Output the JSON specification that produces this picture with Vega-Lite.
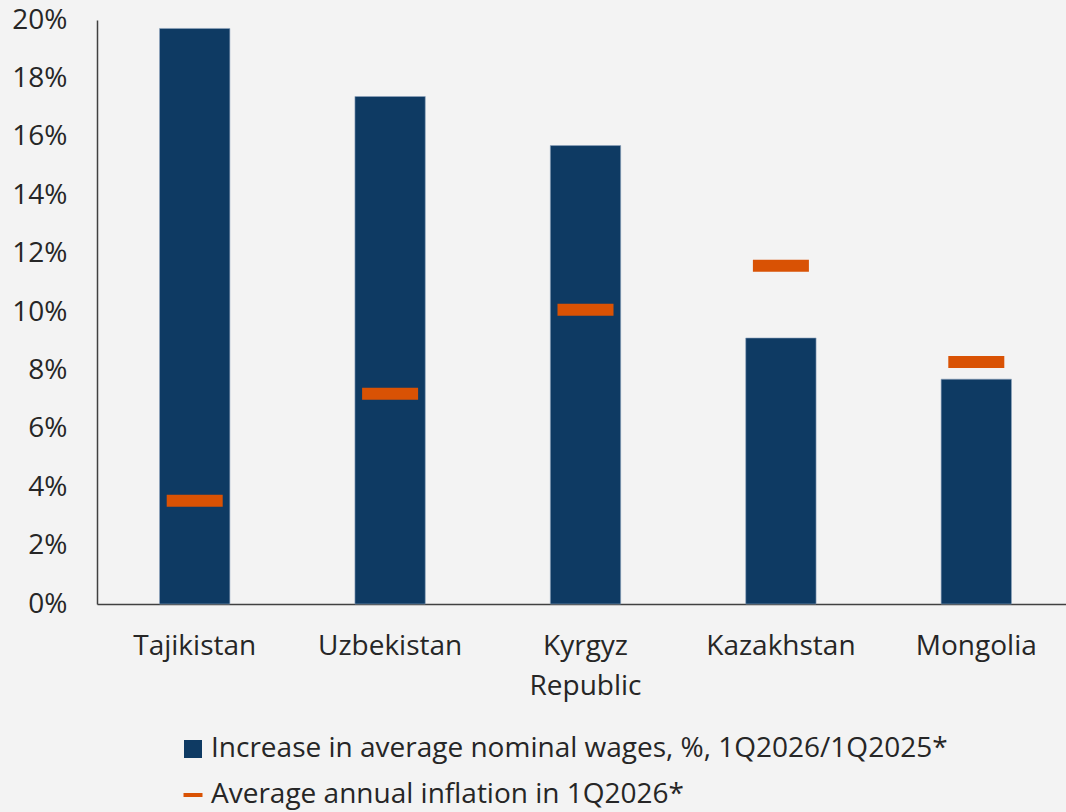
{
  "$schema": "https://vega.github.io/schema/vega-lite/v6.json",
  "width": 977,
  "height": 584,
  "padding": {"left": 97, "top": 20, "right": 0, "bottom": 208},
  "autosize": {"type": "none"},
  "background": "#F3F3F3",
  "config": {
    "view": {"stroke": null},
    "font": "Open Sans",
    "axis": {"labelFont": "Open Sans", "labelFontSize": 28, "labelColor": "#262626", "domainColor": "#404040", "domainWidth": 1.5, "ticks": false, "grid": false, "title": null},
    "legend": {"labelFont": "Open Sans", "labelFontSize": 28, "labelColor": "#262626", "padding": 0, "labelOffset": 4, "title": null, "labelLimit": 900}
  },
  "data": {
    "values": [
      {"country": "Tajikistan", "wages": 0.1971, "inflation": 0.0354},
      {"country": "Uzbekistan", "wages": 0.1738, "inflation": 0.0720},
      {"country": "Kyrgyz Republic", "wages": 0.1570, "inflation": 0.1008},
      {"country": "Kazakhstan", "wages": 0.0911, "inflation": 0.1158},
      {"country": "Mongolia", "wages": 0.0770, "inflation": 0.0829}
    ]
  },
  "encoding": {
    "x": {
      "field": "country",
      "type": "nominal",
      "sort": null,
      "scale": {"paddingInner": 0.64, "paddingOuter": 0.32},
      "axis": {"labelAngle": 0, "labelPadding": 28, "labelLineHeight": 40, "labelExpr": "datum.label == 'Kyrgyz Republic' ? ['Kyrgyz', 'Republic'] : datum.label"}
    }
  },
  "layer": [
    {
      "mark": {"type": "bar", "stroke": "#8FA5BE", "strokeWidth": 0.6},
      "encoding": {
        "y": {
          "field": "wages",
          "type": "quantitative",
          "scale": {"domain": [0, 0.2], "nice": false},
          "axis": {"values": [0, 0.02, 0.04, 0.06, 0.08, 0.1, 0.12, 0.14, 0.16, 0.18, 0.2], "format": ".0%", "labelPadding": 30}
        },
        "color": {
          "datum": "Increase in average nominal wages, %, 1Q2026/1Q2025*",
          "type": "nominal",
          "scale": {"range": ["#0E3A63"]},
          "legend": {"orient": "none", "legendX": 82, "legendY": 715, "symbolType": "square", "symbolSize": 324, "symbolStrokeWidth": 0}
        }
      }
    },
    {
      "mark": {"type": "tick", "size": 56, "thickness": 12, "opacity": 1},
      "encoding": {
        "y": {"field": "inflation", "type": "quantitative"},
        "color": {
          "datum": "Average annual inflation in 1Q2026*",
          "type": "nominal",
          "scale": {"range": ["#D95204"]},
          "legend": {"orient": "none", "legendX": 82, "legendY": 761, "symbolType": "stroke", "symbolSize": 361, "symbolStrokeWidth": 4, "symbolStrokeColor": "#D95204", "symbolOpacity": 1}
        }
      }
    }
  ],
  "resolve": {"scale": {"color": "independent"}}
}
